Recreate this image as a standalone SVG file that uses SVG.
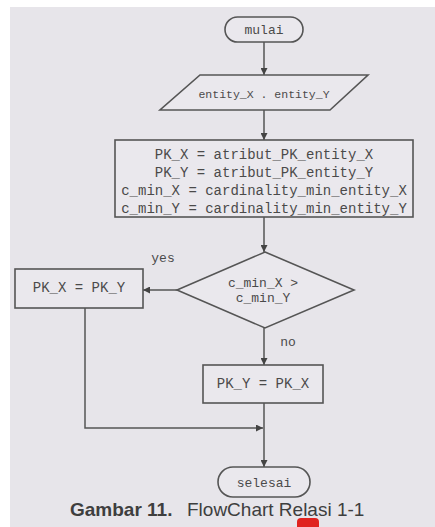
<svg xmlns="http://www.w3.org/2000/svg" width="435" height="527" viewBox="0 0 435 527">
<defs>
<style>
.shape{fill:#eae8ed;stroke:#555;stroke-width:1.6}
.line{fill:none;stroke:#555;stroke-width:1.5}
.t{font-family:"Liberation Mono","DejaVu Sans Mono",monospace;fill:#4a4a4a;text-anchor:middle;dominant-baseline:central}
.cap{font-family:"Liberation Sans",Arial,sans-serif;font-size:19px;fill:#3e3e3e}
</style>
<marker id="ah" viewBox="0 0 10 10" refX="10" refY="5" markerWidth="7" markerHeight="7" markerUnits="userSpaceOnUse" orient="auto">
<path d="M0,0 L10,5 L0,10 Z" fill="#444"/>
</marker>
</defs>
<rect x="0" y="0" width="435" height="527" fill="#ffffff"/>
<rect x="10" y="7" width="425" height="520" fill="#e7e5ea"/>
<g id="connectors">
<line class="line" x1="264" y1="42" x2="264" y2="75" marker-end="url(#ah)"/>
<line class="line" x1="264" y1="110" x2="264" y2="140" marker-end="url(#ah)"/>
<line class="line" x1="264" y1="217" x2="264" y2="252" marker-end="url(#ah)"/>
<line class="line" x1="177" y1="290" x2="143" y2="290" marker-end="url(#ah)"/>
<line class="line" x1="264" y1="328" x2="264" y2="365" marker-end="url(#ah)"/>
<polyline class="line" points="85,308 85,428 263,428" marker-end="url(#ah)"/>
<line class="line" x1="264" y1="403" x2="264" y2="467" marker-end="url(#ah)"/>
<text class="t" x="163" y="258" font-size="13">yes</text>
<text class="t" x="288" y="342" font-size="13">no</text>
</g>
<g id="mulai">
<rect class="shape" x="225" y="17" width="78" height="25" rx="12.5"/>
<text class="t" x="264" y="30" font-size="13">mulai</text>
</g>
<g id="input">
<polygon class="shape" points="200,75 368,75 330,110 160,110"/>
<text class="t" x="264" y="94" font-size="11.5">entity_X . entity_Y</text>
</g>
<g id="assign">
<rect class="shape" x="115" y="140" width="298" height="77"/>
<text class="t" x="264" y="155" font-size="14">PK_X = atribut_PK_entity_X</text>
<text class="t" x="264" y="173" font-size="14">PK_Y = atribut_PK_entity_Y</text>
<text class="t" x="264" y="191" font-size="14">c_min_X = cardinality_min_entity_X</text>
<text class="t" x="264" y="209" font-size="14">c_min_Y = cardinality_min_entity_Y</text>
</g>
<g id="decision">
<polygon class="shape" points="265,252 354,290 265,328 177,290"/>
<text class="t" x="263" y="283" font-size="13">c_min_X &gt;</text>
<text class="t" x="263" y="298" font-size="13">c_min_Y</text>
</g>
<g id="yesbox">
<rect class="shape" x="15" y="269" width="128" height="39"/>
<text class="t" x="79" y="288" font-size="14">PK_X = PK_Y</text>
</g>
<g id="nobox">
<rect class="shape" x="203" y="365" width="120" height="38"/>
<text class="t" x="263" y="384" font-size="14">PK_Y = PK_X</text>
</g>
<g id="selesai">
<rect class="shape" x="218" y="467" width="92" height="30" rx="15"/>
<text class="t" x="264" y="483" font-size="13">selesai</text>
</g>
<text class="cap" x="70" y="516"><tspan font-weight="bold">Gambar 11.</tspan><tspan x="187">FlowChart Relasi 1-1</tspan></text>
<rect x="297" y="518" width="22" height="14" rx="4" fill="#e0221e"/>
</svg>
